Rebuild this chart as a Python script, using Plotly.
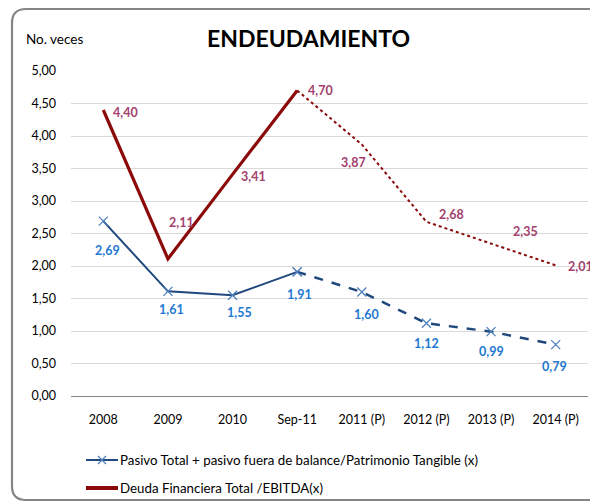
import plotly.graph_objects as go

categories = ["2008", "2009", "2010", "Sep-11", "2011 (P)", "2012 (P)", "2013 (P)", "2014 (P)"]
pasivo = [2.69, 1.61, 1.55, 1.91, 1.60, 1.12, 0.99, 0.79]
deuda = [4.40, 2.11, 3.41, 4.70, 3.87, 2.68, 2.35, 2.01]
pasivo_labels = ["2,69", "1,61", "1,55", "1,91", "1,60", "1,12", "0,99", "0,79"]
deuda_labels = ["4,40", "2,11", "3,41", "4,70", "3,87", "2,68", "2,35", "2,01"]
y_ticks = [0, 0.5, 1, 1.5, 2, 2.5, 3, 3.5, 4, 4.5, 5]

name_pasivo = "Pasivo Total + pasivo fuera de balance/Patrimonio Tangible (x)"
name_deuda = "Deuda Financiera Total /EBITDA(x)"

FONT = "Lato, Carlito, Calibri, sans-serif"
BLUE_LINE = "#1F497D"
BLUE_MARK = "#4F81BD"
RED_LINE = "#8B0A0A"
BLUE_TXT = "#1F78D1"
RED_TXT = "#A3406E"

idx = list(range(len(categories)))

fig = go.Figure()
fig.add_trace(go.Scatter(x=idx[:4], y=pasivo[:4], mode="lines+markers", name=name_pasivo,
                         line=dict(color=BLUE_LINE, width=2),
                         marker=dict(symbol="x-thin", size=9, line=dict(color=BLUE_MARK, width=1.3), color=BLUE_MARK)))
fig.add_trace(go.Scatter(x=idx[3:], y=pasivo[3:], mode="lines+markers",
                         line=dict(color=BLUE_LINE, width=2.5, dash="dash"),
                         marker=dict(symbol="x-thin", size=9, line=dict(color=BLUE_MARK, width=1.3), color=BLUE_MARK)))
fig.add_trace(go.Scatter(x=idx[:4], y=deuda[:4], mode="lines", name=name_deuda,
                         line=dict(color=RED_LINE, width=3.2)))
fig.add_trace(go.Scatter(x=idx[3:], y=deuda[3:], mode="lines",
                         line=dict(color=RED_LINE, width=2, dash="dot")))

blue_off = [(4, -29), (4, -18), (7, -17), (2, -23), (5, -22), (0, -20), (0, -20), (-1, -22)]
red_off = [(22, -2), (14, 36), (21, -2), (23, 0), (-8, -18), (25, 7), (34, 12), (25, -1)]

anns = []
for i, v, t, (dx, dy) in zip(idx, pasivo, pasivo_labels, blue_off):
    anns.append(dict(x=i, y=v, text="<b>%s</b>" % t, showarrow=False, xshift=dx, yshift=dy,
                     font=dict(family=FONT, size=12.5, color=BLUE_TXT)))
for i, v, t, (dx, dy) in zip(idx, deuda, deuda_labels, red_off):
    anns.append(dict(x=i, y=v, text="<b>%s</b>" % t, showarrow=False, xshift=dx, yshift=dy,
                     font=dict(family=FONT, size=12.5, color=RED_TXT)))

L, R, T, B = 71, 588, 71, 396
W, H = 590, 504
def px(x): return (x - L) / (R - L)
def py(y): return (B - y) / (B - T)

anns.append(dict(xref="paper", yref="paper", x=px(308), y=py(38), text="<b>ENDEUDAMIENTO</b>",
                 showarrow=False, font=dict(family=FONT, size=23, color="#000000"), xanchor="center", yanchor="middle"))
anns.append(dict(xref="paper", yref="paper", x=px(24), y=py(39), text="No. veces",
                 showarrow=False, font=dict(family=FONT, size=13.5, color="#000000"), xanchor="left", yanchor="middle"))

leg_rows = [(name_pasivo, 460, BLUE_LINE, True), (name_deuda, 488, RED_LINE, False)]
shapes = []
for name, yy, col, mk in leg_rows:
    anns.append(dict(xref="paper", yref="paper", x=px(118), y=py(yy), text=name, showarrow=False,
                     xanchor="left", yanchor="middle", font=dict(family=FONT, size=13.3, color="#000000")))
    shapes.append(dict(type="line", xref="paper", yref="paper", x0=px(86), x1=px(118), y0=py(yy), y1=py(yy),
                       line=dict(color=col, width=2 if mk else 4)))
    if mk:
        for a, b in [(-4, -4), (-4, 4)]:
            shapes.append(dict(type="line", xref="paper", yref="paper", x0=px(102 + a), x1=px(102 - a),
                               y0=py(yy + b), y1=py(yy - b), line=dict(color=BLUE_MARK, width=1.3)))

x0, y0, x1, y1, r = 12, 9, 640, 500, 14
path = (f"M {px(x0+r)},{py(y0)} L {px(x1-r)},{py(y0)} Q {px(x1)},{py(y0)} {px(x1)},{py(y0+r)} "
        f"L {px(x1)},{py(y1-r)} Q {px(x1)},{py(y1)} {px(x1-r)},{py(y1)} "
        f"L {px(x0+r)},{py(y1)} Q {px(x0)},{py(y1)} {px(x0)},{py(y1-r)} "
        f"L {px(x0)},{py(y0+r)} Q {px(x0)},{py(y0)} {px(x0+r)},{py(y0)} Z")
shapes.append(dict(type="path", path=path, xref="paper", yref="paper",
                   line=dict(color="#858585", width=2.2), layer="below"))

fig.update_layout(
    width=W, height=H,
    margin=dict(l=L, r=W - R, t=T, b=H - B, autoexpand=False),
    paper_bgcolor="white", plot_bgcolor="white",
    separators=",.",
    font=dict(family=FONT, size=12, color="#000000"),
    annotations=anns,
    shapes=shapes,
    showlegend=False,
    xaxis=dict(tickvals=idx, ticktext=categories, automargin=False,
               showgrid=False, showline=True, linecolor="#868686", linewidth=1, zeroline=False,
               ticks="", tickfont=dict(family=FONT, size=12.5, color="#000000"),
               range=[-0.5, 7.5], ticklabelstandoff=12),
    yaxis=dict(range=[0, 5], tickvals=y_ticks, tickformat=".2f", automargin=False,
               showgrid=True, gridcolor="#D9D9D9", gridwidth=1, zeroline=False,
               showline=False, ticks="", tickfont=dict(family=FONT, size=12.5, color="#000000"),
               ticklabelstandoff=14),
)
fig.write_html("out.html", config={"displayModeBar": False},
               post_script="document.body.style.margin='0';document.body.style.overflow='hidden';")
